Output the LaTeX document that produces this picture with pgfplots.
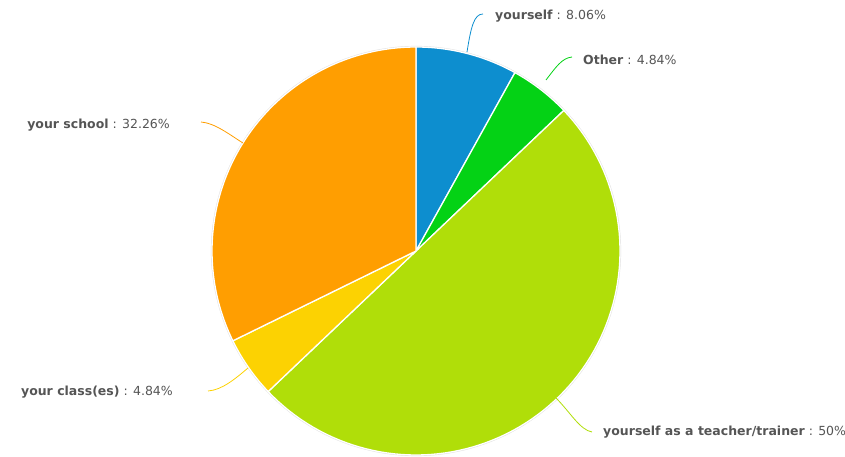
\documentclass[border=0pt]{standalone}
\usepackage{pgfplots}
\pgfplotsset{compat=1.18}
\usepackage{fontspec}
\setmainfont{DejaVu Sans}
\definecolor{cBlue}{HTML}{0D8ECF}
\definecolor{cGreen}{HTML}{04D215}
\definecolor{cLime}{HTML}{B0DE09}
\definecolor{cYellow}{HTML}{FCD202}
\definecolor{cOrange}{HTML}{FF9E01}
\definecolor{txt}{HTML}{555555}
% data (percent), clockwise from 12 o'clock
\def\vA{8.06}  % yourself
\def\vB{4.84}  % Other
\def\vC{50}    % yourself as a teacher/trainer
\def\vD{4.84}  % your class(es)
\def\vE{32.26} % your school
\pgfmathsetmacro\aA{90}
\pgfmathsetmacro\aB{\aA-3.6*\vA}
\pgfmathsetmacro\aC{\aB-3.6*\vB}
\pgfmathsetmacro\aD{\aC-3.6*\vC}
\pgfmathsetmacro\aE{\aD-3.6*\vD}
\pgfmathsetmacro\aF{\aE-3.6*\vE}
\def\cx{416}\def\cy{206}\def\R{204}
\begin{document}
\begin{tikzpicture}
\begin{axis}[
  width=845pt, height=457pt, scale only axis,
  xmin=0, xmax=845, ymin=0, ymax=457,
  hide axis, clip=false,
  samples=90,
]
\addplot[draw=black!12, line width=2.2pt, domain=0:360, samples=180]
  ({\cx+\R*cos(x)},{\cy+\R*sin(x)});
\addplot[fill=cBlue, draw=white, line width=1.3pt, domain=\aB:\aA]
  ({\cx+\R*cos(x)},{\cy+\R*sin(x)}) -- (axis cs:\cx,\cy) -- cycle;
\addplot[fill=cGreen, draw=white, line width=1.3pt, domain=\aC:\aB]
  ({\cx+\R*cos(x)},{\cy+\R*sin(x)}) -- (axis cs:\cx,\cy) -- cycle;
\addplot[fill=cLime, draw=white, line width=1.3pt, domain=\aD:\aC]
  ({\cx+\R*cos(x)},{\cy+\R*sin(x)}) -- (axis cs:\cx,\cy) -- cycle;
\addplot[fill=cYellow, draw=white, line width=1.3pt, domain=\aE:\aD]
  ({\cx+\R*cos(x)},{\cy+\R*sin(x)}) -- (axis cs:\cx,\cy) -- cycle;
\addplot[fill=cOrange, draw=white, line width=1.3pt, domain=\aF:\aE]
  ({\cx+\R*cos(x)},{\cy+\R*sin(x)}) -- (axis cs:\cx,\cy) -- cycle;
% leader lines
\draw[cBlue, line width=0.8pt] (axis cs:467,405) .. controls (axis cs:471,430) and (axis cs:474,443) .. (axis cs:483,443);
\draw[cGreen, line width=0.8pt] (axis cs:546,377) .. controls (axis cs:556,390) and (axis cs:562,399) .. (axis cs:572,400);
\draw[cLime, line width=0.8pt] (axis cs:556,59) .. controls (axis cs:570,45) and (axis cs:580,27) .. (axis cs:592,25);
\draw[cYellow, line width=0.8pt] (axis cs:248,89) .. controls (axis cs:235,78) and (axis cs:222,67) .. (axis cs:208,66);
\draw[cOrange, line width=0.8pt] (axis cs:243,314) .. controls (axis cs:230,322) and (axis cs:215,334) .. (axis cs:201,335);
% labels
\begin{scope}[every node/.style={text=txt, font=\fontsize{12.5}{14}\selectfont, inner sep=0pt}]
\node[anchor=west] at (axis cs:495,441) {\textbf{yourself} : 8.06\%};
\node[anchor=west] at (axis cs:583,397) {\textbf{Other} : 4.84\%};
\node[anchor=west] at (axis cs:603,25) {\textbf{yourself as a teacher/trainer} : 50\%};
\node[anchor=east] at (axis cs:173,65) {\textbf{your class(es)} : 4.84\%};
\node[anchor=east] at (axis cs:170,332) {\textbf{your school} : 32.26\%};
\end{scope}
\end{axis}
\pgfresetboundingbox
\useasboundingbox (0,0) rectangle (845pt,457pt);
\end{tikzpicture}
\end{document}
